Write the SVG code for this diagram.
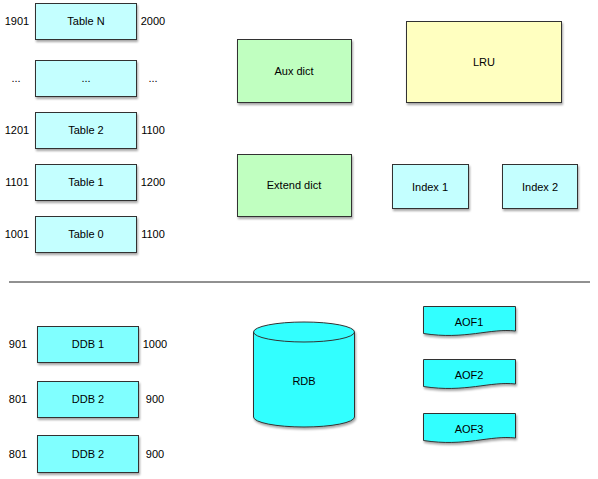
<svg xmlns="http://www.w3.org/2000/svg" width="598" height="479" viewBox="0 0 598 479">
<style>
text{font-family:"Liberation Sans",Arial,sans-serif;font-size:11px;fill:#000}
.c{text-anchor:middle}
.box{stroke:#333;stroke-width:1;filter:url(#sh)}
.tbl{fill:#C4FFFF}
.ddb{fill:#80FFFF}
.grn{fill:#C0FFC0}
.yel{fill:#FFFFC0}
.aof{fill:#33FFFF}
</style>
<defs>
<filter id="sh" x="-10%" y="-10%" width="130%" height="140%">
<feDropShadow dx="1" dy="2" stdDeviation="1.2" flood-color="#000" flood-opacity="0.35"/>
</filter>
</defs>
<g id="connectors">
<line x1="9" y1="282" x2="590" y2="282" stroke="#222" stroke-width="1"/>
</g>
<g id="tableN"><rect class="box tbl" x="35.5" y="3.5" width="101" height="36"/><text class="c" x="86" y="25">Table N</text><text class="c" x="17" y="25">1901</text><text class="c" x="153" y="25">2000</text></g>
<g id="tableDots"><rect class="box tbl" x="35.5" y="60.5" width="101" height="36"/><text class="c" x="86" y="82">...</text><text class="c" x="16" y="82">...</text><text class="c" x="153" y="82">...</text></g>
<g id="table2"><rect class="box tbl" x="35.5" y="112.5" width="101" height="36"/><text class="c" x="86" y="134">Table 2</text><text class="c" x="17" y="134">1201</text><text class="c" x="153" y="134">1100</text></g>
<g id="table1"><rect class="box tbl" x="35.5" y="164.5" width="101" height="36"/><text class="c" x="86" y="186">Table 1</text><text class="c" x="17" y="186">1101</text><text class="c" x="153" y="186">1200</text></g>
<g id="table0"><rect class="box tbl" x="35.5" y="216.5" width="101" height="36"/><text class="c" x="86" y="238">Table 0</text><text class="c" x="17" y="238">1001</text><text class="c" x="153" y="238">1100</text></g>
<g id="auxDict"><rect class="box grn" x="237.5" y="39.5" width="114" height="63"/><text class="c" x="294" y="75">Aux dict</text></g>
<g id="lru"><rect class="box yel" x="406.5" y="21.5" width="155" height="81"/><text class="c" x="484" y="66">LRU</text></g>
<g id="extendDict"><rect class="box grn" x="237.5" y="154.5" width="114" height="62"/><text class="c" x="294" y="189">Extend dict</text></g>
<g id="index1"><rect class="box tbl" x="392.5" y="164.5" width="76" height="44"/><text class="c" x="430" y="191">Index 1</text></g>
<g id="index2"><rect class="box tbl" x="502.5" y="164.5" width="75" height="44"/><text class="c" x="540" y="191">Index 2</text></g>
<g id="ddb1"><rect class="box ddb" x="37.5" y="326.5" width="101" height="36"/><text class="c" x="88" y="348">DDB 1</text><text class="c" x="18" y="348">901</text><text class="c" x="155" y="348">1000</text></g>
<g id="ddb2a"><rect class="box ddb" x="37.5" y="381.5" width="101" height="36"/><text class="c" x="88" y="403">DDB 2</text><text class="c" x="18" y="403">801</text><text class="c" x="155" y="403">900</text></g>
<g id="ddb2b"><rect class="box ddb" x="37.5" y="435.5" width="101" height="37"/><text class="c" x="88" y="458">DDB 2</text><text class="c" x="18" y="458">801</text><text class="c" x="155" y="458">900</text></g>
<g id="rdb"><path class="box aof" d="M253.5,332 A50.5,10 0 0,1 354.5,332 V417 A50.5,10 0 0,1 253.5,417 Z"/><path d="M253.5,332 A50.5,10 0 0,0 354.5,332" fill="none" stroke="#333" stroke-width="1"/><text class="c" x="304" y="385">RDB</text></g>
<g id="aof1"><path class="box aof" d="M423.5,306.5 H515.5 V331 C490,328 465,340 423.5,333.5 Z"/><text class="c" x="469" y="326">AOF1</text></g>
<g id="aof2"><path class="box aof" d="M423.5,359.5 H515.5 V384 C490,381 465,393 423.5,386.5 Z"/><text class="c" x="469" y="379">AOF2</text></g>
<g id="aof3"><path class="box aof" d="M423.5,413.5 H515.5 V438 C490,435 465,447 423.5,440.5 Z"/><text class="c" x="469" y="433">AOF3</text></g>
</svg>
